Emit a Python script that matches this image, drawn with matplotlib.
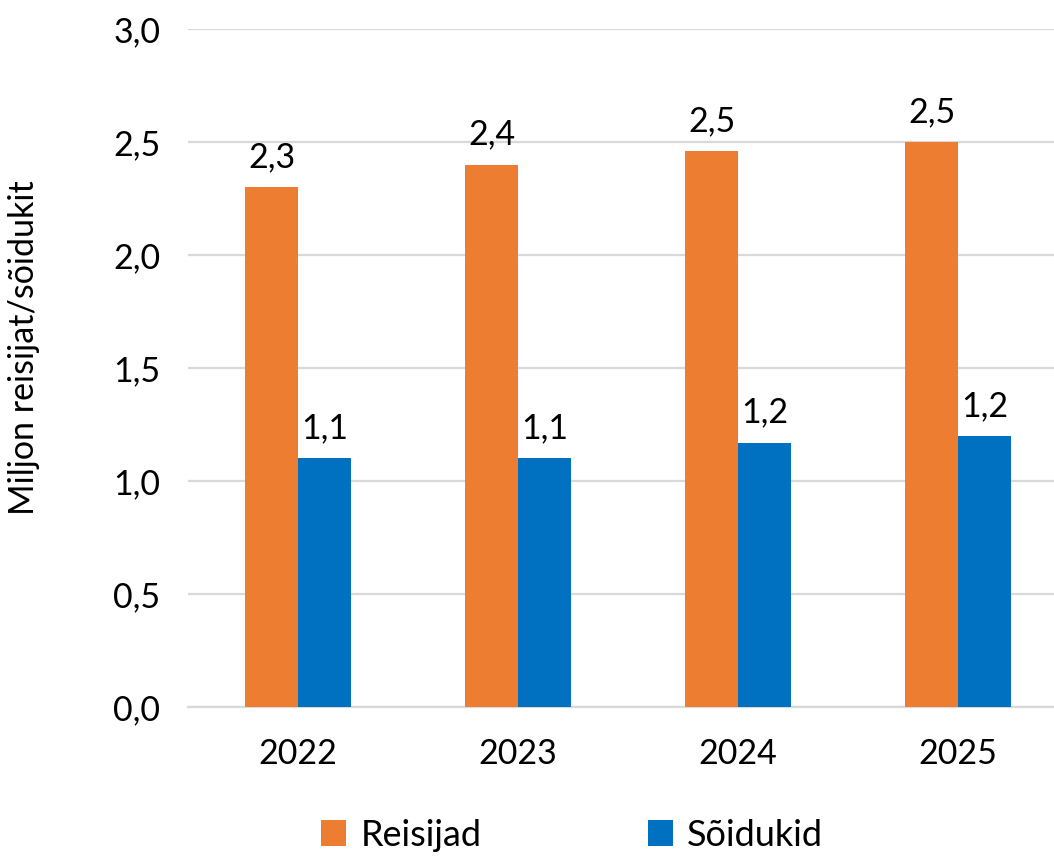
import numpy as np
import matplotlib.pyplot as plt

plt.rcParams['font.family'] = ['Lato', 'DejaVu Sans']

years = ["2022", "2023", "2024", "2025"]
reisijad = [2.30, 2.40, 2.46, 2.50]
soidukid = [1.10, 1.10, 1.17, 1.20]
yticks = [0.0, 0.5, 1.0, 1.5, 2.0, 2.5, 3.0]

orange = "#ED7D31"
blue = "#0070C0"
fs = 24.5

fig = plt.figure(figsize=(10.54, 8.56), dpi=100)
ax = fig.add_axes([188 / 1054, 1 - 707 / 856, 1 - 188 / 1054, (707 - 29) / 856])

x = np.arange(len(years))
w = 0.24
b1 = ax.bar(x - w / 2, reisijad, w, color=orange, label="Reisijad", zorder=3)
b2 = ax.bar(x + w / 2, soidukid, w, color=blue, label="Sõidukid", zorder=3)

fmt = lambda v: f"{v:.1f}".replace(".", ",")
ax.bar_label(b1, labels=[fmt(v) for v in reisijad], padding=10, fontsize=fs)
ax.bar_label(b2, labels=[fmt(v) for v in soidukid], padding=10, fontsize=fs)

ax.set_xlim(-0.5, (1054 - 298) / 220)
ax.set_ylim(0, 3.0)
ax.set_yticks(yticks)
ax.set_yticklabels([fmt(v) for v in yticks], fontsize=fs)
ax.set_xticks(x)
ax.set_xticklabels(years, fontsize=fs)
ax.tick_params(axis="both", length=0)
ax.tick_params(axis="y", pad=20)
ax.tick_params(axis="x", pad=22)

ax.grid(axis="y", color="#D9D9D9", linewidth=1.6, zorder=0)
for s in ["top", "right", "left"]:
    ax.spines[s].set_visible(False)
ax.spines["bottom"].set_color("#D9D9D9")
ax.spines["bottom"].set_linewidth(1.6)

ax.set_ylabel("Miljon reisijat/sõidukit", fontsize=fs)
ax.yaxis.set_label_coords(-(188 - 40) / 866, (707 - 348) / 678)

fig.legend(handles=[b1, b2], loc="center", bbox_to_anchor=(572 / 1054, 1 - 835 / 856),
           ncol=2, frameon=False, fontsize=26, handlelength=0.7, handleheight=0.7,
           handletextpad=0.4, columnspacing=4.6)

fig.savefig("out.png", dpi=100)
